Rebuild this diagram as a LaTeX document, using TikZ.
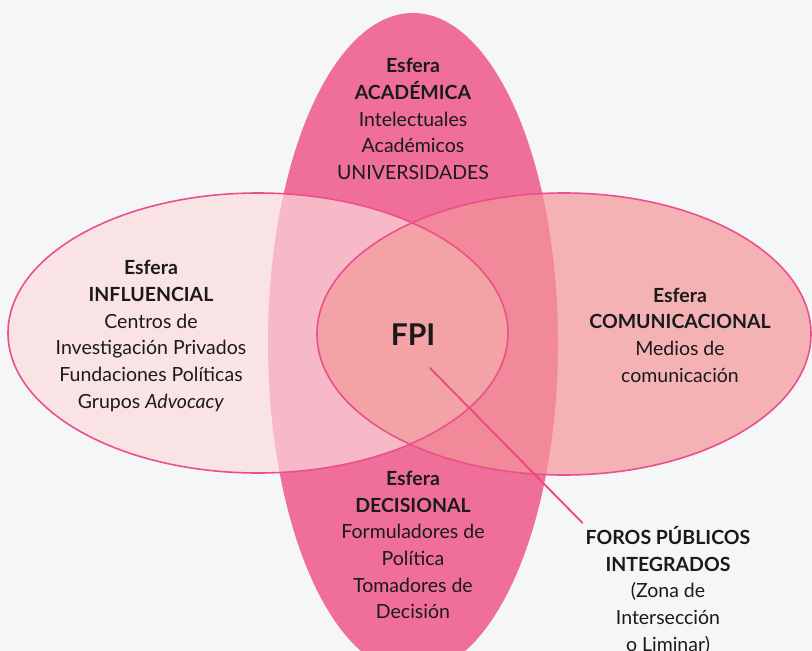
\documentclass[tikz,border=0pt]{standalone}
\usepackage{fontspec}
\setmainfont{Lato}
\definecolor{fondo}{HTML}{F4F6F8}
\definecolor{rosa}{HTML}{EF6F9A}
\definecolor{influ}{HTML}{FAE3E5}
\definecolor{influrosa}{HTML}{F7B9C7}
\definecolor{comu}{HTML}{F5B2B5}
\definecolor{comurosa}{HTML}{F1899A}
\definecolor{lente}{HTML}{F3A2A6}
\definecolor{trazo}{HTML}{EC5089}
\definecolor{tinta}{HTML}{1A1A1A}
\tikzset{
  esfera/.style={align=center,text=tinta,font=\fontsize{19.5}{26.7}\selectfont,inner sep=3pt},
  borde/.style={draw=trazo,line width=1.6pt},
}
\begin{document}
\begin{tikzpicture}[x=1pt,y=-1pt,line cap=round,line join=round]
\fill[fondo] (0,0) rectangle (812,651);
\useasboundingbox (0,0) rectangle (812,651);
% the three spheres
\coordinate (acad) at (413,343);
\coordinate (infl) at (258,333);
\coordinate (comu) at (564,334);
\fill[rosa] (acad) ellipse [x radius=145pt,y radius=330pt];
\fill[influ] (infl) ellipse [x radius=250pt,y radius=140pt];
\fill[comu] (comu) ellipse [x radius=247pt,y radius=141pt];
\begin{scope}
  \clip (acad) ellipse [x radius=145pt,y radius=330pt];
  \fill[influrosa] (infl) ellipse [x radius=250pt,y radius=140pt];
  \fill[comurosa] (comu) ellipse [x radius=247pt,y radius=141pt];
\end{scope}
\begin{scope}
  \clip (infl) ellipse [x radius=250pt,y radius=140pt];
  \fill[lente] (comu) ellipse [x radius=247pt,y radius=141pt];
\end{scope}
\draw[borde] (infl) ellipse [x radius=250pt,y radius=140pt];
\draw[borde] (comu) ellipse [x radius=247pt,y radius=141pt];
% labels
\node[esfera] (academica) at (413,119) {\textbf{Esfera}\\\textbf{ACADÉMICA}\\Intelectuales\\Académicos\\UNIVERSIDADES};
\node[esfera] (influencial) at (151,336) {\textbf{Esfera}\\\textbf{INFLUENCIAL}\\Centros de\\Investigación Privados\\Fundaciones Políticas\\Grupos \textit{Advocacy}};
\node[esfera] (comunicacional) at (680,335) {\textbf{Esfera}\\\textbf{COMUNICACIONAL}\\Medios de\\comunicación};
\node[esfera] (decisional) at (413,545) {\textbf{Esfera}\\\textbf{DECISIONAL}\\Formuladores de\\Política\\Tomadores de\\Decisión};
\node[text=tinta,font=\fontsize{30}{30}\selectfont\bfseries] (fpi) at (413,335) {FPI};
\node[esfera,anchor=north] (foros) at (668,523) {\textbf{FOROS PÚBLICOS}\\\textbf{INTEGRADOS}\\(Zona de\\Intersección\\o Liminar)};
\coordinate (fpitip) at (430,368);
\draw[draw=trazo!90!red,line width=1.8pt] (fpitip) -- (foros.north west);
\end{tikzpicture}
\end{document}
